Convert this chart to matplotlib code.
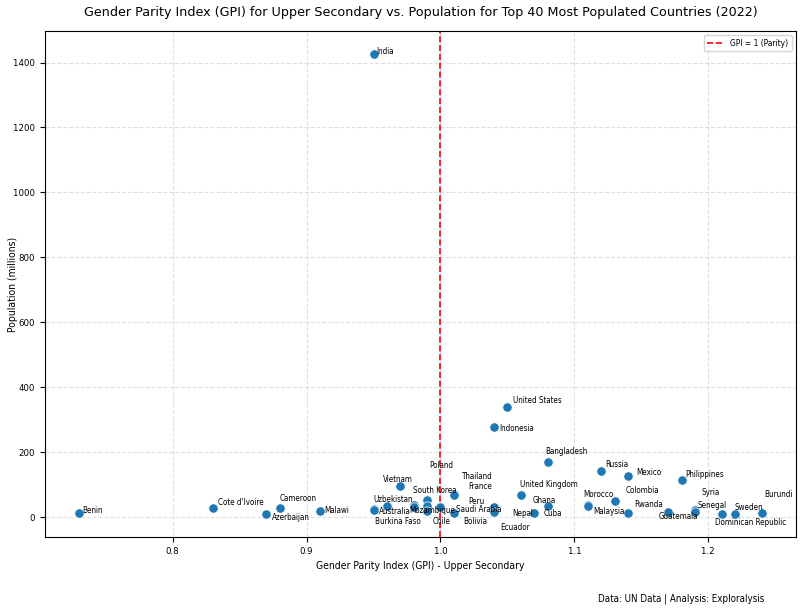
import matplotlib
matplotlib.use('Agg')
import matplotlib.pyplot as plt

plt.rcParams['font.family'] = 'DejaVu Sans'
plt.rcParams['font.stretch'] = 'condensed'

# datos: GPI secundaria superior y poblacion (millones)
countries = ['India', 'United States', 'Indonesia', 'Bangladesh', 'Russia', 'Mexico',
             'Philippines', 'Vietnam', 'Benin', "Cote d'Ivoire", 'Cameroon', 'Azerbaijan',
             'Malawi', 'Australia', 'Burkina Faso', 'Uzbekistan', 'Poland', 'Mozambique',
             'South Korea', 'Peru', 'Chile', 'Saudi Arabia', 'Thailand', 'France', 'Bolivia',
             'Nepal', 'Ecuador', 'United Kingdom', 'Cuba', 'Ghana', 'Morocco', 'Malaysia',
             'Colombia', 'Rwanda', 'Guatemala', 'Syria', 'Senegal', 'Dominican Republic',
             'Sweden', 'Burundi']
gpi = [0.95, 1.05, 1.04, 1.08, 1.12, 1.14,
       1.18, 0.97, 0.73, 0.83, 0.88, 0.87,
       0.91, 0.95, 0.95, 0.96, 0.98, 0.98,
       0.99, 0.99, 0.99, 1.00, 1.01, 1.01, 1.01,
       1.04, 1.04, 1.06, 1.07, 1.08, 1.11, 1.11,
       1.13, 1.14, 1.17, 1.19, 1.19, 1.21,
       1.22, 1.24]
population = [1426, 341, 277, 171, 144, 128,
              115, 98, 13, 28, 28, 10,
              20, 26, 22, 35, 38, 33,
              52, 34, 19, 31, 71, 68, 13,
              31, 16, 68, 12, 36, 37, 34,
              50, 13, 18, 22, 17, 11,
              10.5, 13]

# desplazamiento de cada etiqueta (pixeles) respecto a su punto
label_offsets = [(3, 3), (6, 6), (5, -1), (-2, 10), (4, 6), (8, 3),
                 (4, 6), (-17, 6), (3, 3), (5, 6), (0, 10), (6, -3),
                 (4, 0), (5, -3), (1, -11), (-14, 7), (16, 40), (-4, -4),
                 (-14, 10), (41, 5), (6, -10), (16, -2), (8, 18), (14, 9), (9, -8),
                 (18, -6), (6, -15), (-1, 11), (9, 0), (-15, 5), (-5, 11), (5, -5),
                 (11, 11), (6, 9), (-9, -5), (7, 18), (3, 6), (-7, -9),
                 (-1, 6), (2, 19)]

fig = plt.figure(figsize=(8, 6.09), dpi=100)
ax = fig.add_axes([0.056, 0.118, 0.939, 0.831])

ax.scatter(gpi, population, s=45, color='#1f77b4', edgecolor='white',
           linewidth=0.5, zorder=3)
ax.axvline(1.0, color='red', linestyle='--', linewidth=1.2,
           label='GPI = 1 (Parity)', zorder=2)

for name, x, y, off in zip(countries, gpi, population, label_offsets):
    ax.annotate(name, (x, y), xytext=off, textcoords='offset pixels',
                ha='left', va='center', fontsize=5.8, zorder=4)

ax.set_title('Gender Parity Index (GPI) for Upper Secondary vs. Population for '
             'Top 40 Most Populated Countries (2022)', fontsize=9.2, pad=11,
             fontstretch='normal')
ax.set_xlabel('Gender Parity Index (GPI) - Upper Secondary', fontsize=7.5)
ax.set_ylabel('Population (millions)', fontsize=7.5)
ax.yaxis.set_label_coords(-0.036, 0.5)
ax.tick_params(labelsize=6.8)
ax.set_xticks([0.8, 0.9, 1.0, 1.1, 1.2])
ax.grid(True, linestyle='--', alpha=0.6, color='#cccccc')
ax.legend(loc='upper right', fontsize=6)

fig.text(0.955, 0.012, 'Data: UN Data | Analysis: Exploralysis', ha='right',
         fontsize=7)

plt.savefig('out.png', dpi=100)
plt.close(fig)
